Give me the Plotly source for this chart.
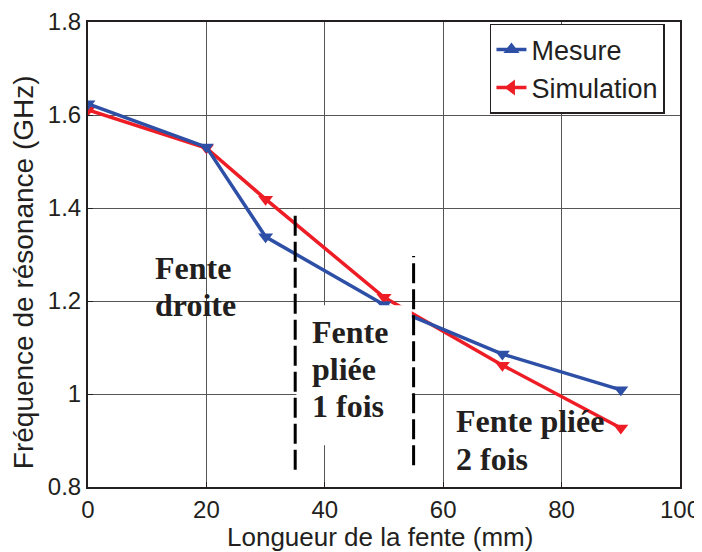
import plotly.graph_objects as go

# Data
longueur = [0, 20, 30, 50, 70, 90]
mesure = [1.624, 1.531, 1.338, 1.192, 1.086, 1.009]
simulation = [1.611, 1.529, 1.419, 1.208, 1.062, 0.927]

x_ticks = [0, 20, 40, 60, 80, 100]
y_ticks = [0.8, 1.0, 1.2, 1.4, 1.6, 1.8]
y_tick_labels = ["0.8", "1", "1.2", "1.4", "1.6", "1.8"]

# region labels (one entry per text line) and their anchor points
label_lines = ["Fente", "droite", "Fente", "pliée", "1 fois", "Fente pliée", "2 fois"]
label_x = [11.3, 11.3, 37.8, 37.8, 37.8, 62.1, 62.1]
label_y = [1.271, 1.191, 1.133, 1.054, 0.974, 0.942, 0.860]

# region separators
sep_x = [35, 55]
sep_y0 = [0.837, 0.847]
sep_y1 = [1.396, 1.297]

BLUE = "#2E4FA6"
RED = "#EE1D25"
INK = "#231F20"
SANS = "Liberation Sans, Arial, sans-serif"
SERIF = "Liberation Serif, Times New Roman, serif"

fig = go.Figure()

fig.add_trace(go.Scatter(x=longueur, y=simulation, mode="lines+markers",
                         line=dict(color=RED, width=3.5),
                         marker=dict(symbol="triangle-down", size=13, color=RED),
                         showlegend=False))
fig.add_trace(go.Scatter(x=longueur, y=mesure, mode="lines+markers",
                         line=dict(color=BLUE, width=3.5),
                         marker=dict(symbol="triangle-down", size=13, color=BLUE),
                         showlegend=False))
# legend entries
fig.add_trace(go.Scatter(x=[None], y=[None], mode="lines+markers", name="Mesure",
                         line=dict(color=BLUE, width=3.5),
                         marker=dict(symbol="triangle-up", size=14, color=BLUE)))
fig.add_trace(go.Scatter(x=[None], y=[None], mode="lines+markers", name="Simulation",
                         line=dict(color=RED, width=3.5),
                         marker=dict(symbol="triangle-left", size=14, color=RED)))

# white text box that hides lines/grid behind "Fente pliée 1 fois"
fig.add_shape(type="rect", xref="x", yref="y", x0=35.2, x1=54.7, y0=0.890, y1=1.191,
              fillcolor="white", line=dict(width=0), layer="above")
# dashed separators
for sx, s0, s1 in zip(sep_x, sep_y0, sep_y1):
    fig.add_shape(type="line", xref="x", yref="y", x0=sx, x1=sx, y0=s0, y1=s1,
                  line=dict(color="black", width=3, dash="20px,6px"), layer="above")

ann_font = dict(family=SERIF, size=32, color=INK)
for t, lx, ly in zip(label_lines, label_x, label_y):
    fig.add_annotation(x=lx, y=ly, xref="x", yref="y", text="<b>" + t + "</b>",
                       showarrow=False, xanchor="left", yanchor="middle",
                       xshift=-2, font=ann_font)

# axis titles
fig.add_annotation(x=0.494, y=0, xref="paper", yref="paper", yshift=-50,
                   text="Longueur de la fente (mm)", showarrow=False,
                   xanchor="center", yanchor="middle",
                   font=dict(family=SANS, size=26, color=INK))
fig.add_annotation(x=0, y=0.462, xref="paper", yref="paper", xshift=-65,
                   text="Fréquence de résonance (GHz)", showarrow=False, textangle=-90,
                   xanchor="center", yanchor="middle",
                   font=dict(family=SANS, size=28, color=INK))

axis_common = dict(showline=True, linecolor=INK, linewidth=2, mirror=True,
                   showgrid=True, gridcolor="#555555", gridwidth=1,
                   ticks="inside", ticklen=5, tickcolor=INK,
                   tickfont=dict(family=SANS, size=24, color=INK),
                   ticklabeloverflow="allow",
                   zeroline=False, automargin=False)

fig.update_xaxes(range=[0, 100], tickvals=x_ticks, **axis_common)
fig.update_yaxes(range=[0.8, 1.8], tickvals=y_ticks, ticktext=y_tick_labels, **axis_common)

# page body has an 8px margin: figure is sized/placed so the plot lands where the reference has it
fig.update_layout(
    width=694, height=544,
    margin=dict(l=80, r=22, t=14, b=65),
    paper_bgcolor="white", plot_bgcolor="white",
    legend=dict(x=0.679, y=0.996, xanchor="left", yanchor="top",
                bordercolor=INK, borderwidth=1.5, bgcolor="white",
                font=dict(family=SANS, size=27, color=INK),
                tracegroupgap=0),
)

fig.write_html("out.html")
